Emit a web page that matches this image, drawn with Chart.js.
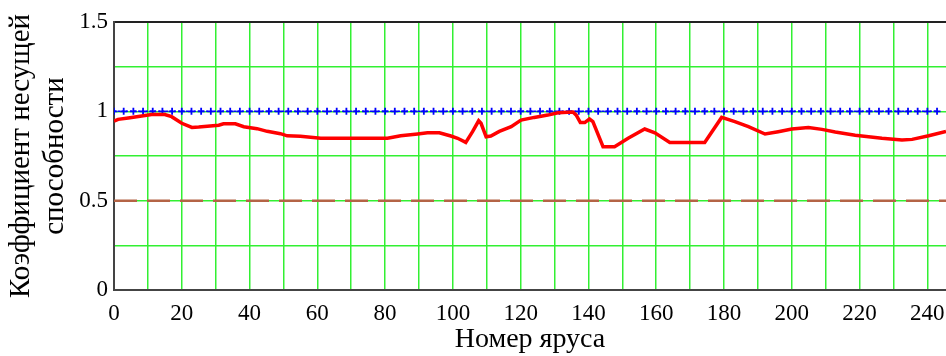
<!DOCTYPE html>
<html lang="ru">
<head>
<meta charset="UTF-8">
<title>Коэффициент несущей способности</title>
<script src="https://cdn.jsdelivr.net/npm/chart.js@4.4.1/dist/chart.umd.min.js"></script>
<style>
  body { margin: 0; background: #fff; }
  #wrap { position: relative; width: 946px; height: 356px; }
</style>
</head>
<body>
<div id="wrap"><canvas id="myChart"></canvas></div>
<script>
// red curve: tier number -> load capacity coefficient
const tierX = [0, 1.2, 4.2, 7.7, 11.1, 15, 17, 20, 23, 25, 30.9, 32.3, 35.8, 38.3, 42.2, 45.2, 49.1, 51.1, 55, 61,
  80.7, 84.6, 89.6, 92.5, 96, 99.4, 101.4, 103.8, 105.8, 107.6, 108.3, 109.8, 111.2, 113.7, 117.2, 120.1, 124, 128,
  131, 135.4, 136.4, 137.6, 138.9, 140.3, 141.3, 144.3, 147.7, 151.7, 156.6, 159.6, 164, 174.3, 179.3, 183.2, 187.2,
  192.1, 196, 200, 204.9, 208.9, 212.8, 218.7, 226.6, 232.5, 235.5, 240.4, 245.5];
const capacity = [0.945, 0.955, 0.963, 0.972, 0.982, 0.982, 0.97, 0.933, 0.91, 0.912, 0.922, 0.93, 0.93, 0.914, 0.903,
  0.888, 0.875, 0.863, 0.861, 0.849, 0.849, 0.863, 0.873, 0.88, 0.88, 0.862, 0.849, 0.826, 0.886, 0.947, 0.933, 0.858,
  0.862, 0.888, 0.914, 0.951, 0.966, 0.979, 0.992, 0.996, 0.979, 0.937, 0.937, 0.957, 0.942, 0.802, 0.802, 0.849, 0.901,
  0.88, 0.826, 0.826, 0.966, 0.942, 0.914, 0.873, 0.886, 0.901, 0.91, 0.899, 0.884, 0.866, 0.849, 0.839, 0.843, 0.863,
  0.888];

const limitValue = 1;     // blue dotted line
const halfValue = 0.5;    // brown dashed line
const xMin = 0, xMax = 245.5;
const yMin = 0, yMax = 1.5;
const xTickLabels = [0, 20, 40, 60, 80, 100, 120, 140, 160, 180, 200, 220, 240];
const yTickLabels = [0, 0.5, 1, 1.5];

// marker positions along the limit line
const limitPts = [];
for (let k = 0; k <= 85; k++) limitPts.push({ x: k * 20 / 7, y: limitValue });

const green = 'rgb(50,240,50)';
const serif = '"Liberation Serif", "DejaVu Serif", serif';

const data = {
  datasets: [
    {
      label: 'capacity',
      data: tierX.map((x, i) => ({ x: x, y: capacity[i] })),
      borderColor: '#ff0000',
      borderWidth: 3.5,
      pointRadius: 0,
      tension: 0
    },
    {
      label: 'limit',
      data: limitPts,
      borderColor: '#0000ff',
      borderWidth: 1.5,
      borderDash: [2, 2],
      pointStyle: 'cross',
      pointRadius: 3.5,
      pointBorderWidth: 1.8,
      pointBorderColor: '#0000ff',
      pointBackgroundColor: '#0000ff'
    },
    {
      label: 'half',
      data: [{ x: xMin, y: halfValue }, { x: xMax, y: halfValue }],
      borderColor: 'rgb(180,100,70)',
      borderWidth: 2.5,
      borderDash: [23, 10],
      pointRadius: 0
    }
  ]
};

const config = {
  type: 'line',
  data: data,
  options: {
    responsive: true,
    maintainAspectRatio: false,
    animation: false,
    layout: { autoPadding: false, padding: { top: 22, right: 0, left: 0, bottom: 0 } },
    plugins: { legend: { display: false }, tooltip: { enabled: false } },
    scales: {
      x: {
        type: 'linear',
        min: xMin,
        max: xMax,
        afterBuildTicks: s => {
          const t = [];
          for (let v = 0; v <= 240; v += 10) t.push({ value: v });
          s.ticks = t;
        },
        afterFit: s => { s.height = 66; s.paddingRight = 0; s.paddingLeft = 0; },
        border: { display: true, color: '#444', width: 2 },
        grid: { color: green, lineWidth: 1.5, drawTicks: false },
        ticks: {
          autoSkip: false,
          maxRotation: 0,
          padding: 10,
          color: '#000',
          font: { family: serif, size: 23 },
          callback: v => xTickLabels.includes(v) ? String(v) : ''
        },
        title: {
          display: true,
          text: 'Номер яруса',
          color: '#000',
          padding: 0,
          font: { family: serif, size: 28 }
        }
      },
      y: {
        min: yMin,
        max: yMax,
        afterFit: s => { s.width = 114; },
        border: { display: true, color: '#444', width: 2 },
        grid: {
          color: c => c.tick && c.tick.value === yMax ? '#222' : green,
          lineWidth: c => c.tick && c.tick.value === yMax ? 2 : 1.5,
          drawTicks: false
        },
        ticks: {
          stepSize: 0.25,
          autoSkip: false,
          padding: 6,
          color: '#000',
          font: { family: serif, size: 23 },
          callback: v => yTickLabels.includes(v) ? String(v) : ''
        },
        title: {
          display: true,
          text: ['Коэффициент несущей', 'способности'],
          color: '#000',
          padding: { top: 5 },
          font: { family: serif, size: 29, lineHeight: 1.15 }
        }
      }
    }
  }
};

new Chart(document.getElementById('myChart'), config);
</script>
</body>
</html>
